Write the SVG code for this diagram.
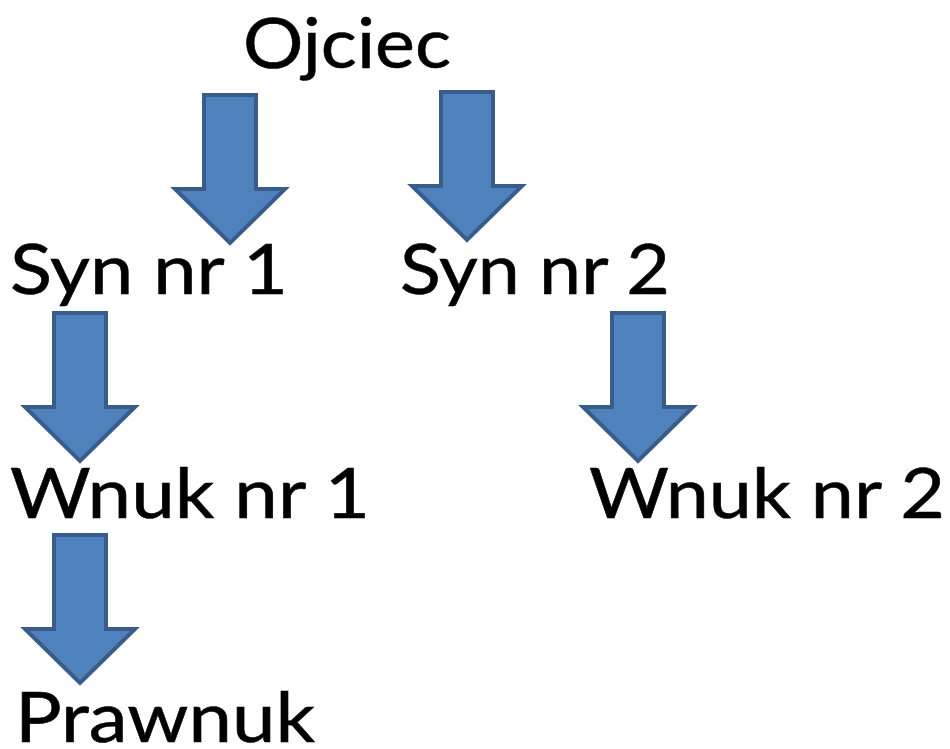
<svg xmlns="http://www.w3.org/2000/svg" xmlns:xlink="http://www.w3.org/1999/xlink" width="950" height="749" viewBox="0 0 950 749">
<style>
  .lbl { font-family: Lato, "Open Sans", "Liberation Sans", sans-serif; font-size: 70px; fill: #000; stroke: #000; stroke-width: 0.6; }
  .arr { fill: #4F81BD; stroke: #385D8A; stroke-width: 4; stroke-linejoin: miter; }
</style>
<defs>
  <path id="downArrow" d="M-26,0 H26 V94 H55 L0,148 L-55,94 H-26 Z"/>
</defs>
<rect width="950" height="749" fill="#fff"/>
<g id="connectors">
  <use xlink:href="#downArrow" class="arr" transform="translate(230,95)"/>
  <use xlink:href="#downArrow" class="arr" transform="translate(467,92)"/>
  <use xlink:href="#downArrow" class="arr" transform="translate(80,313)"/>
  <use xlink:href="#downArrow" class="arr" transform="translate(80,535)"/>
  <use xlink:href="#downArrow" class="arr" transform="translate(638,313)"/>
</g>
<g id="ojciec"><text class="lbl" x="243" y="68" textLength="208" lengthAdjust="spacingAndGlyphs">Ojciec</text></g>
<g id="syn1"><text class="lbl" x="10" y="294" textLength="278" lengthAdjust="spacingAndGlyphs">Syn nr 1</text></g>
<g id="syn2"><text class="lbl" x="400" y="294" textLength="270" lengthAdjust="spacingAndGlyphs">Syn nr 2</text></g>
<g id="wnuk1"><text class="lbl" x="10" y="518" textLength="360" lengthAdjust="spacingAndGlyphs">Wnuk nr 1</text></g>
<g id="wnuk2"><text class="lbl" x="589" y="518" textLength="356" lengthAdjust="spacingAndGlyphs">Wnuk nr 2</text></g>
<g id="prawnuk"><text class="lbl" x="15" y="742" textLength="300" lengthAdjust="spacingAndGlyphs">Prawnuk</text></g>
</svg>
